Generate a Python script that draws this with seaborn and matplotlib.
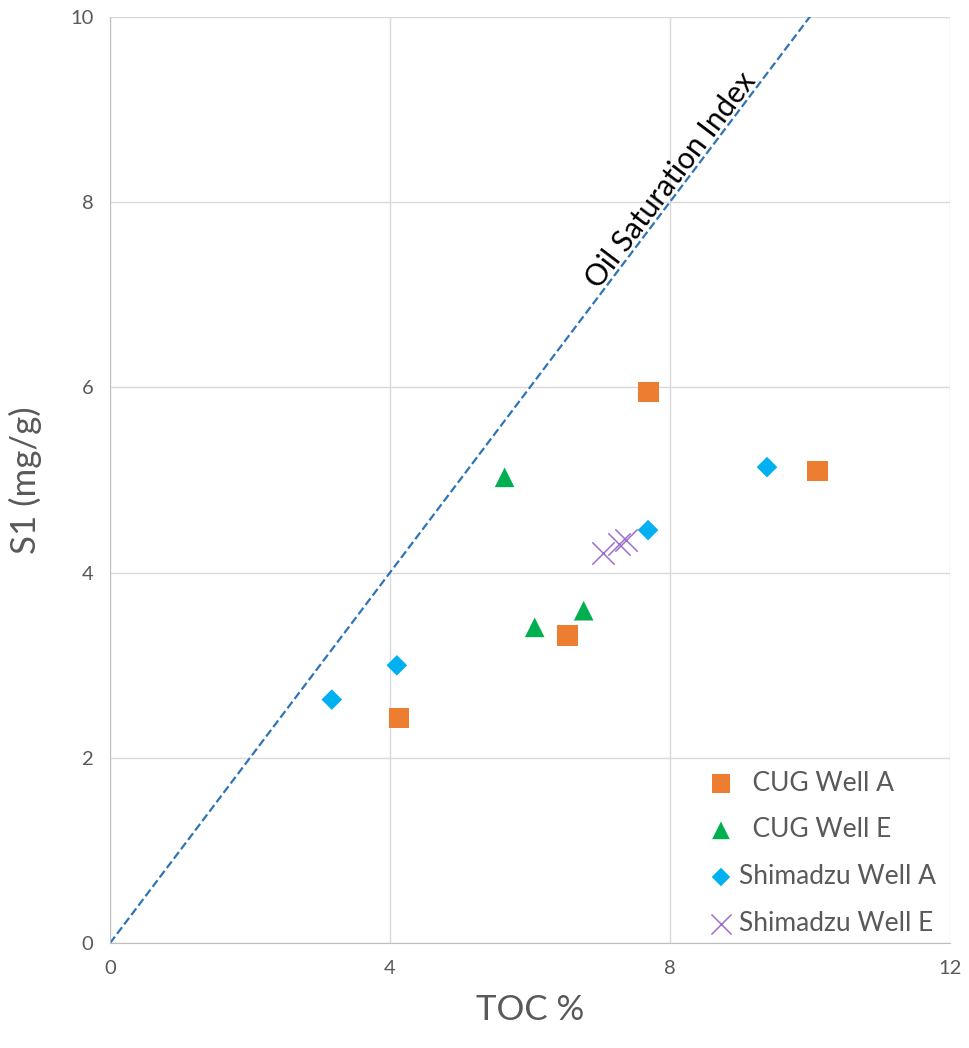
import matplotlib
matplotlib.use("Agg")
import matplotlib.pyplot as plt
import seaborn as sns
import pandas as pd

# Data
cug_a_toc = [4.13, 6.54, 7.70, 10.11]
cug_a_s1 = [2.43, 3.32, 5.95, 5.10]
cug_e_toc = [5.64, 6.07, 6.77]
cug_e_s1 = [5.03, 3.41, 3.59]
shim_a_toc = [3.17, 4.10, 7.69, 9.39]
shim_a_s1 = [2.63, 3.00, 4.46, 5.14]
shim_e_toc = [7.04, 7.28, 7.37]
shim_e_s1 = [4.21, 4.31, 4.35]

series = ["CUG Well A", "CUG Well E", "Shimadzu Well A", "Shimadzu Well E"]
legend_labels = ["  CUG Well A", "  CUG Well E", "Shimadzu Well A", "Shimadzu Well E"]
osi_line_x = [0, 12]
osi_line_y = [0, 12]

df = pd.concat([
    pd.DataFrame({"TOC": cug_a_toc, "S1": cug_a_s1, "series": series[0]}),
    pd.DataFrame({"TOC": cug_e_toc, "S1": cug_e_s1, "series": series[1]}),
    pd.DataFrame({"TOC": shim_a_toc, "S1": shim_a_s1, "series": series[2]}),
    pd.DataFrame({"TOC": shim_e_toc, "S1": shim_e_s1, "series": series[3]}),
])

sns.set_style("whitegrid")
plt.rcParams["font.family"] = ["Lato", "DejaVu Sans"]

colors = {series[0]: "#ED7D31", series[1]: "#00B050",
          series[2]: "#00B0F0", series[3]: "#9E6FCF"}
markers = {series[0]: "s", series[1]: "^", series[2]: "D", series[3]: "x"}
sizes = {series[0]: 220, series[1]: 200, series[2]: 110, series[3]: 260}

fig = plt.figure(figsize=(9.69, 10.48), dpi=100)
ax = fig.add_axes([0.1135, 0.100, 0.8665, 0.8838])

# Oil saturation index line
ax.plot(osi_line_x, osi_line_y, ls="--", color="#2E75B6", lw=1.6, zorder=1)

for s, lab in zip(series, legend_labels):
    sub = df[df["series"] == s]
    kw = dict(edgecolor="none") if markers[s] != "x" else dict(linewidth=1.1)
    sns.scatterplot(data=sub, x="TOC", y="S1", ax=ax, color=colors[s],
                    marker=markers[s], s=sizes[s], label=lab, zorder=3, **kw)

ax.set_xlim(0, 12)
ax.set_ylim(0, 10)
ax.set_xticks([0, 4, 8, 12])
ax.set_yticks([0, 2, 4, 6, 8, 10])
ax.grid(True, color="#D9D9D9", lw=1)
for sp in ax.spines.values():
    sp.set_visible(False)
ax.spines["left"].set_visible(True)
ax.spines["bottom"].set_visible(True)
ax.spines["left"].set_color("#BFBFBF")
ax.spines["bottom"].set_color("#BFBFBF")
ax.tick_params(colors="#595959", labelsize=14.5, length=0, pad=12)

ax.set_xlabel("TOC %", fontsize=25, color="#595959", labelpad=12)
ax.set_ylabel("S1 (mg/g)", fontsize=25, color="#595959", labelpad=20)

ax.text(8.02, 8.24, "Oil Saturation Index", rotation=52.9, fontsize=21.5,
        color="black", ha="center", va="center", rotation_mode="anchor")

leg = ax.legend(loc="lower right", bbox_to_anchor=(1.0, -0.006), frameon=False,
                fontsize=19, labelspacing=0.82, handletextpad=-0.3,
                markerscale=0.9, borderaxespad=0.1)
for t in leg.get_texts():
    t.set_color("#595959")

fig.savefig("out.png", dpi=100)
